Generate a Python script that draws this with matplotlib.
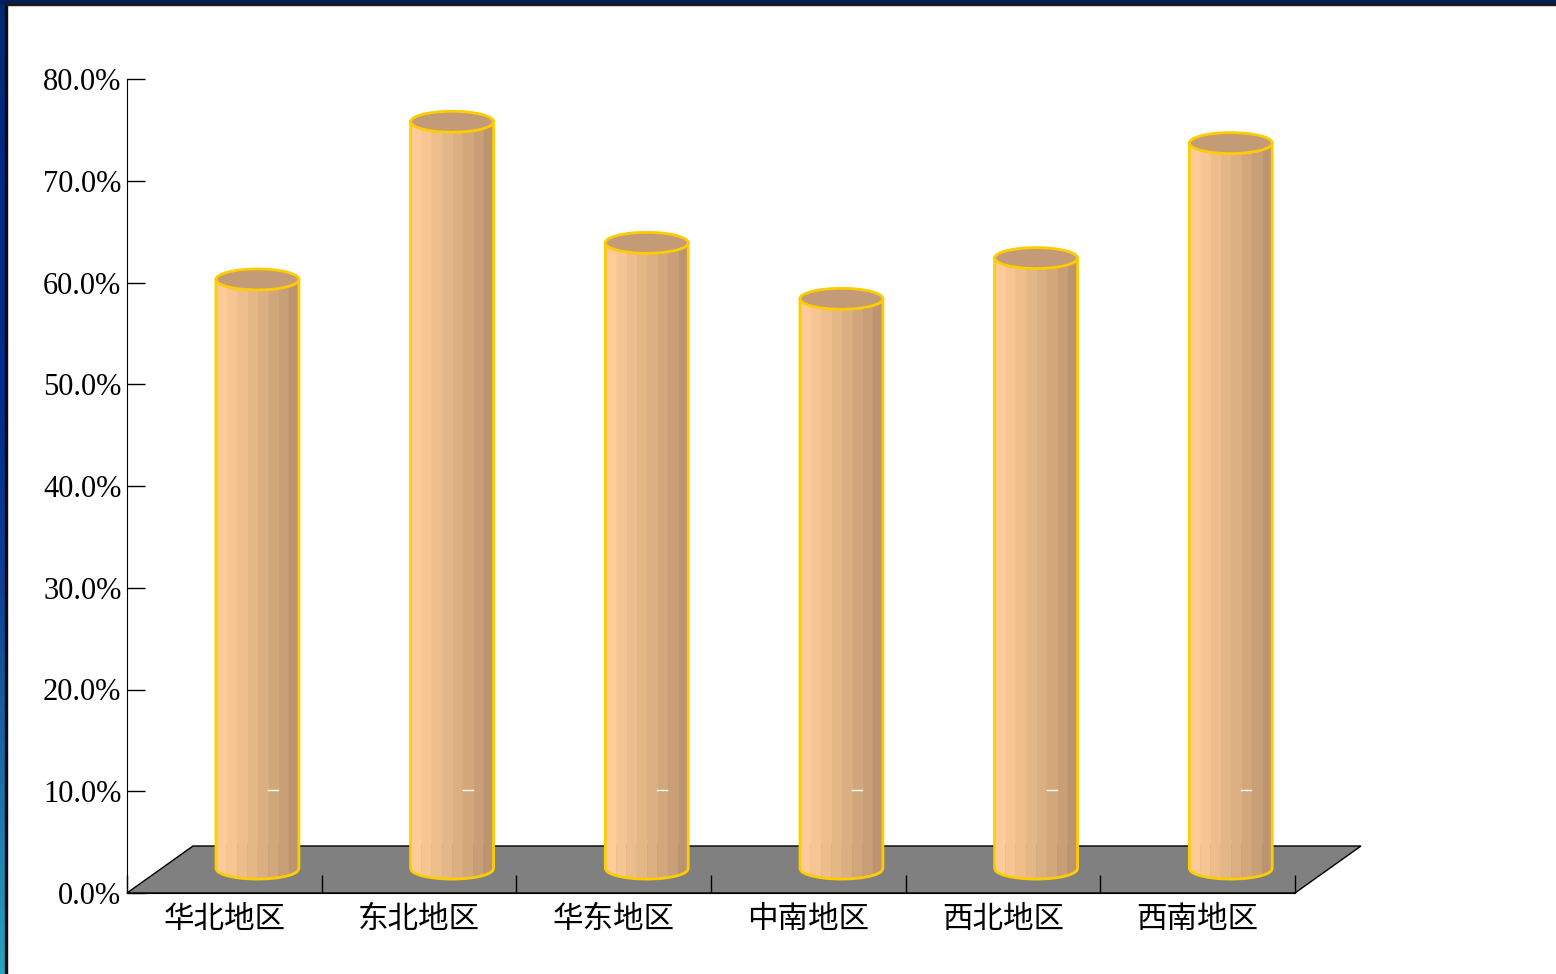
import numpy as np
import matplotlib
matplotlib.use("Agg")
import matplotlib.pyplot as plt
from matplotlib.patches import Polygon, Ellipse, Rectangle

regions = ['华北地区', '东北地区', '华东地区', '中南地区', '西北地区', '西南地区']
rates = [57.9, 73.4, 61.5, 56.0, 60.0, 71.3]
yticks = [0, 10, 20, 30, 40, 50, 60, 70, 80]
ytick_labels = ['%.1f%%' % t for t in yticks]

# 3D look (in data units)
depth_x, depth_y = 0.339, 4.62      # floor depth offset
bar_dx, bar_dy = 0.17, 2.4          # cylinder sits mid-depth
rx, ry = 0.213, 1.03                # cylinder radii
side_cols = ['#FFCC99', '#F6C592', '#EDBE8C', '#E4B787', '#DBAF81',
             '#D2A77B', '#C89F76', '#BC9570']
top_col = '#C39B76'
edge_col = '#FFCC00'

fig = plt.figure(figsize=(15.56, 9.74), dpi=100)
fig.patch.set_facecolor('white')

# frame strips
strip = fig.add_axes([0, 0, 5 / 1556, 1])
grad = np.linspace(0, 1, 256).reshape(-1, 1)
cmap = matplotlib.colors.LinearSegmentedColormap.from_list(
    'edge', ['#28a4bf', '#1d6ea8', '#0f3f94', '#002a8c', '#002b88', '#002a70'])
strip.imshow(grad, aspect='auto', cmap=cmap, origin='lower', extent=[0, 1, 0, 1])
strip.axis('off')
fig.add_artist(Rectangle((5 / 1556, 0), 2 / 1556, 1, transform=fig.transFigure,
                         color='#0a0a14', zorder=5))
fig.add_artist(Rectangle((0, 1 - 3 / 974), 1, 3 / 974, transform=fig.transFigure,
                         color='#001f5f', zorder=5))
fig.add_artist(Rectangle((5 / 1556, 1 - 5 / 974), 1, 2 / 974, transform=fig.transFigure,
                         color='#1a1a1a', zorder=5))

ax = fig.add_axes([127 / 1556, 81 / 974, 1168 / 1556, 814 / 974])
n = len(regions)
ax.set_xlim(-0.5, n - 0.5)
ax.set_ylim(0, 80)

# floor
floor = Polygon([(-0.5, 0), (n - 0.5, 0), (n - 0.5 + depth_x, depth_y),
                 (-0.5 + depth_x, depth_y)], closed=True, facecolor='#808080',
                edgecolor='black', lw=1, clip_on=False, zorder=1)
ax.add_patch(floor)

for i, v in enumerate(rates):
    cx = i + bar_dx
    y0 = bar_dy
    y1 = bar_dy + v
    edges = np.linspace(cx - rx, cx + rx, len(side_cols) + 1)
    for k, c in enumerate(side_cols):
        xs = np.linspace(edges[k], edges[k + 1], 10)
        off = ry * np.sqrt(np.clip(1 - ((xs - cx) / rx) ** 2, 0, 1))
        ax.fill_between(xs, y0 - off, y1 - off, color=c, lw=0.3,
                        edgecolor=c, zorder=3, clip_on=False)
    # outline of the side
    xs = np.linspace(cx - rx, cx + rx, 80)
    off = ry * np.sqrt(np.clip(1 - ((xs - cx) / rx) ** 2, 0, 1))
    ax.plot(np.r_[cx - rx, xs, cx + rx], np.r_[y1, y0 - off, y1],
            color=edge_col, lw=2, zorder=4, clip_on=False, solid_joinstyle='round')
    ax.add_patch(Ellipse((cx, y1), 2 * rx, 2 * ry, facecolor=top_col,
                         edgecolor=edge_col, lw=2, zorder=5, clip_on=False))
    ax.plot([cx + 0.055, cx + 0.105], [10.1, 10.1], color='white', lw=1,
            zorder=6, clip_on=False)

# axes styling
for s in ['top', 'right']:
    ax.spines[s].set_visible(False)
ax.spines['left'].set_color('black')
ax.spines['bottom'].set_color('black')
ax.spines['left'].set_zorder(7)
ax.spines['bottom'].set_zorder(7)

ax.set_yticks(yticks)
ax.set_yticklabels(ytick_labels, family=['Liberation Serif', 'DejaVu Serif'],
                   fontsize=22, color='black')
ax.tick_params(axis='y', direction='in', length=13, width=1, pad=4)
for lab in ax.get_yticklabels():
    lab.set_va('center_baseline')

ax.set_xticks(range(n))
ax.set_xticklabels(regions, family=['Noto Sans CJK SC', 'DejaVu Sans'],
                   fontsize=22, color='black')
ax.set_xticks(np.arange(-0.5, n), minor=True)
ax.tick_params(axis='x', which='major', length=0, pad=8)
ax.tick_params(axis='x', which='minor', direction='in', length=13, width=1)
for t in ax.xaxis.get_minorticklines():
    t.set_zorder(8)

fig.savefig('out.png', dpi=100, facecolor='white')
